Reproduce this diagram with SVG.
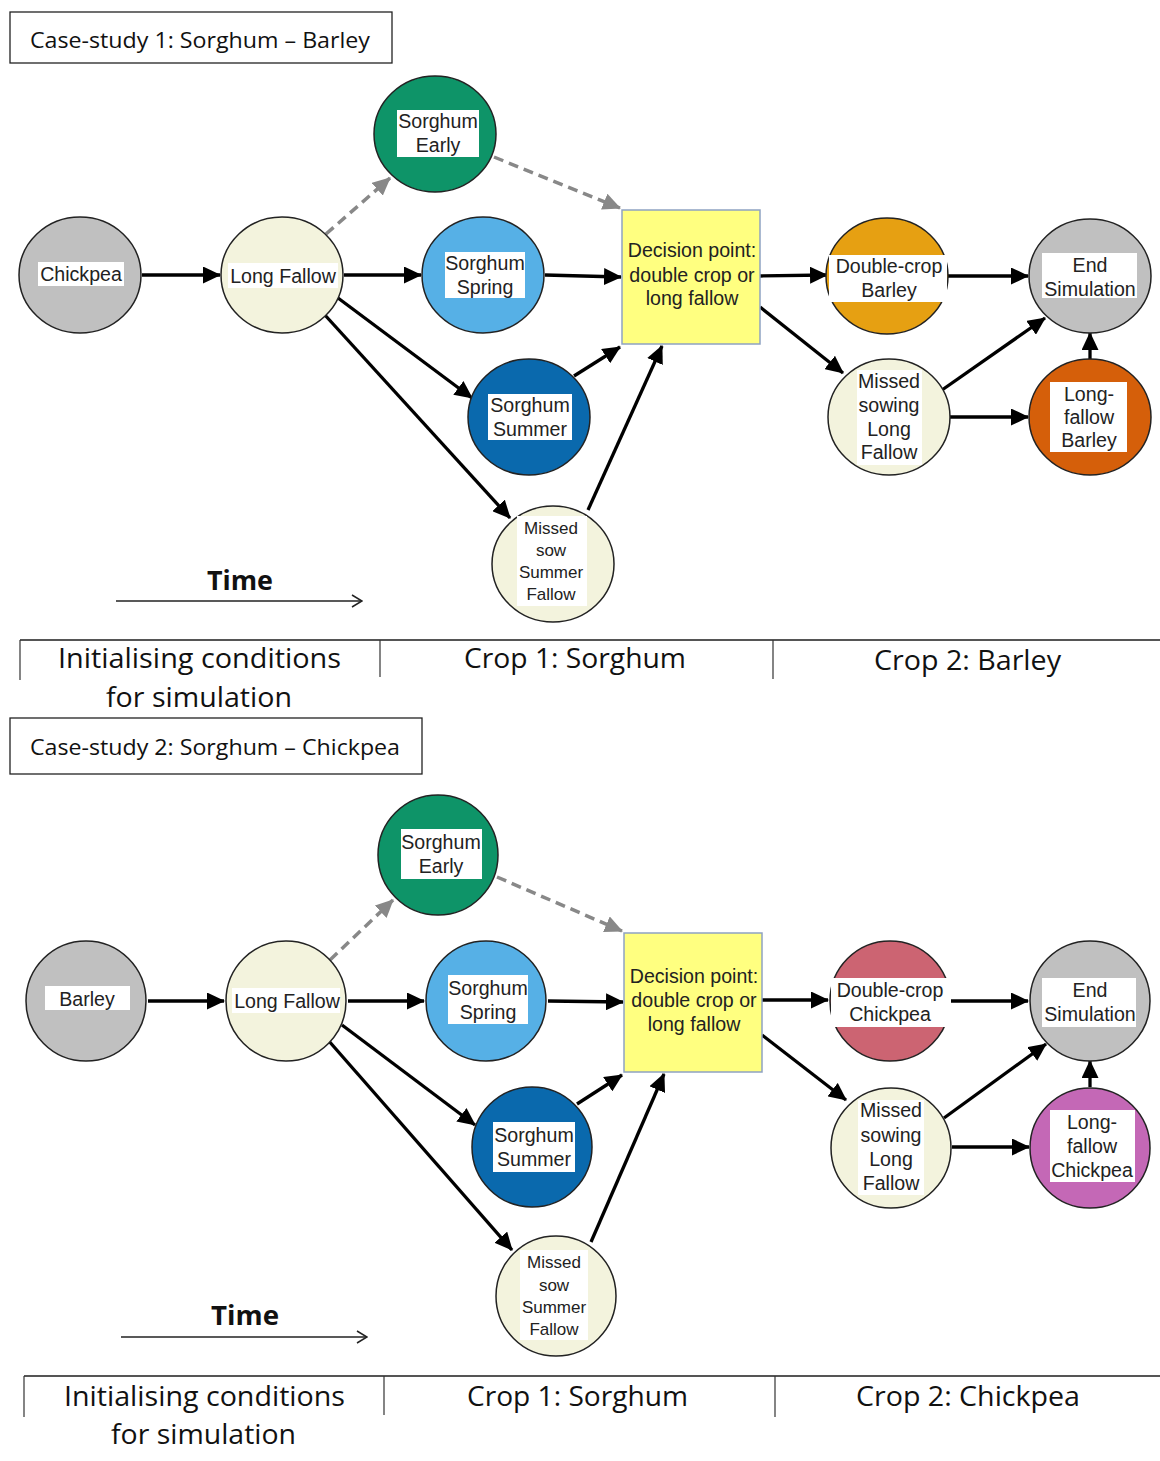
<svg xmlns="http://www.w3.org/2000/svg" width="1160" height="1461" viewBox="0 0 1160 1461">
<style>
.nd{stroke:#222;stroke-width:1.5}
.gray{fill:#c0c0c0}.cream{fill:#f3f3dd}.green{fill:#0e9468}.lblue{fill:#56b0e6}.dblue{fill:#0a69ad}
.orange{fill:#e6a012}.dorange{fill:#d55f0a}.pink{fill:#cc6472}.purple{fill:#c468b6}
.dec{fill:#ffff80;stroke:#8fa2c2;stroke-width:1.5}
.bg{fill:#fff}
.lb{font-family:"Liberation Sans",Arial,sans-serif;font-size:19.6px;fill:#222;text-anchor:middle}
.sm{font-size:17px}
.c{stroke:#000;stroke-width:3.3;fill:none;marker-end:url(#ah)}
.d{stroke:#888;stroke-width:3.5;fill:none;stroke-dasharray:10 6;marker-end:url(#ahg)}
.tb{fill:none;stroke:#222;stroke-width:1.3}
.tt{font-family:"Open Sans","Liberation Sans",sans-serif;font-size:22px;fill:#111}
.ax{stroke:#555;stroke-width:2;fill:none}
.tk{stroke:#333;stroke-width:1.2;fill:none}
.al{font-family:"Open Sans","Liberation Sans",sans-serif;font-size:28px;fill:#111}
.tm{font-family:"Open Sans","Liberation Sans",sans-serif;font-size:26px;font-weight:bold;fill:#111;text-anchor:middle}
.ta{stroke:#222;stroke-width:1.5;fill:none;marker-end:url(#oa)}
</style>
<defs>
<marker id="ah" markerWidth="18" markerHeight="17" refX="17" refY="8.5" orient="auto" markerUnits="userSpaceOnUse"><path d="M0,0 L18,8.5 L0,17 z" fill="#000"/></marker>
<marker id="ahg" markerWidth="18" markerHeight="17" refX="17" refY="8.5" orient="auto" markerUnits="userSpaceOnUse"><path d="M0,0 L18,8.5 L0,17 z" fill="#888"/></marker>
<marker id="oa" markerWidth="12" markerHeight="14" refX="11" refY="7" orient="auto" markerUnits="userSpaceOnUse"><path d="M1,1 L11,7 L1,13" fill="none" stroke="#222" stroke-width="1.5"/></marker>
</defs>

<!-- ============ Case study 1 ============ -->
<g id="title1"><rect class="tb" x="10" y="12" width="382" height="51"/><text class="tt" x="30" y="48" textLength="340" lengthAdjust="spacingAndGlyphs">Case-study 1: Sorghum – Barley</text></g>

<g id="connectors1">
<line class="c" x1="142" y1="275" x2="220" y2="275"/>
<line class="c" x1="344" y1="275" x2="421" y2="275"/>
<line class="d" x1="326" y1="234" x2="390" y2="178"/>
<line class="d" x1="494" y1="157" x2="620" y2="208"/>
<line class="c" x1="545" y1="275" x2="621" y2="277"/>
<line class="c" x1="338" y1="298" x2="472" y2="398"/>
<line class="c" x1="324" y1="314" x2="510" y2="518"/>
<line class="c" x1="574" y1="376" x2="620" y2="347"/>
<line class="c" x1="588" y1="510" x2="662" y2="346"/>
<line class="c" x1="760" y1="276" x2="827" y2="275"/>
<line class="c" x1="760" y1="307" x2="843" y2="373"/>
<line class="c" x1="948" y1="276" x2="1028" y2="276"/>
<line class="c" x1="942" y1="390" x2="1045" y2="318"/>
<line class="c" x1="950" y1="417" x2="1028" y2="417"/>
<line class="c" x1="1090" y1="359" x2="1090" y2="333"/>
</g>

<g id="n1-chickpea"><ellipse class="nd gray" cx="80" cy="275" rx="61" ry="58"/><rect class="bg" x="38" y="262" width="86" height="24"/><text class="lb" x="81" y="281">Chickpea</text></g>
<g id="n1-longfallow"><ellipse class="nd cream" cx="282" cy="275" rx="61" ry="58"/><rect class="bg" x="228" y="263" width="110" height="25"/><text class="lb" x="283" y="283">Long Fallow</text></g>
<g id="n1-early"><ellipse class="nd green" cx="435" cy="134" rx="61" ry="58"/><rect class="bg" x="397" y="110" width="82" height="47"/><text class="lb" x="438" y="128">Sorghum</text><text class="lb" x="438" y="152">Early</text></g>
<g id="n1-spring"><ellipse class="nd lblue" cx="483" cy="275" rx="61" ry="58"/><rect class="bg" x="445" y="252" width="80" height="46"/><text class="lb" x="485" y="270">Sorghum</text><text class="lb" x="485" y="294">Spring</text></g>
<g id="n1-decision"><rect class="dec" x="622" y="210" width="138" height="134"/><text class="lb" x="692" y="257">Decision point:</text><text class="lb" x="692" y="282">double crop or</text><text class="lb" x="692" y="305">long fallow</text></g>
<g id="n1-summer"><ellipse class="nd dblue" cx="529" cy="417" rx="61" ry="58"/><rect class="bg" x="488" y="394" width="84" height="46"/><text class="lb" x="530" y="412">Sorghum</text><text class="lb" x="530" y="436">Summer</text></g>
<g id="n1-missedsow"><ellipse class="nd cream" cx="553" cy="564" rx="61" ry="58"/><rect class="bg" x="517" y="516" width="70" height="90"/><text class="lb sm" x="551" y="534">Missed</text><text class="lb sm" x="551" y="556">sow</text><text class="lb sm" x="551" y="578">Summer</text><text class="lb sm" x="551" y="600">Fallow</text></g>
<g id="n1-dcbarley"><ellipse class="nd orange" cx="887" cy="276" rx="61" ry="58"/><rect class="bg" x="829" y="255" width="118" height="47"/><text class="lb" x="889" y="273">Double-crop</text><text class="lb" x="889" y="297">Barley</text></g>
<g id="n1-end"><ellipse class="nd gray" cx="1090" cy="276" rx="61" ry="57"/><rect class="bg" x="1042" y="253" width="95" height="45"/><text class="lb" x="1090" y="272">End</text><text class="lb" x="1090" y="296">Simulation</text></g>
<g id="n1-missedsowing"><ellipse class="nd cream" cx="889" cy="417" rx="61" ry="58"/><rect class="bg" x="857" y="370" width="65" height="95"/><text class="lb" x="889" y="388">Missed</text><text class="lb" x="889" y="412">sowing</text><text class="lb" x="889" y="436">Long</text><text class="lb" x="889" y="459">Fallow</text></g>
<g id="n1-lfbarley"><ellipse class="nd dorange" cx="1090" cy="417" rx="61" ry="58"/><rect class="bg" x="1050" y="382" width="77" height="70"/><text class="lb" x="1089" y="401">Long-</text><text class="lb" x="1089" y="424">fallow</text><text class="lb" x="1089" y="447">Barley</text></g>

<g id="time1"><text class="tm" x="240" y="590" textLength="66" lengthAdjust="spacingAndGlyphs">Time</text><line class="ta" x1="116" y1="601" x2="362" y2="601"/></g>
<g id="axis1">
<line class="ax" x1="20" y1="640" x2="1160" y2="640"/>
<line class="tk" x1="20" y1="640" x2="20" y2="680"/>
<line class="tk" x1="380" y1="640" x2="380" y2="677"/>
<line class="tk" x1="773" y1="640" x2="773" y2="679"/>
<text class="al" x="58" y="668" textLength="283" lengthAdjust="spacingAndGlyphs">Initialising conditions</text>
<text class="al" x="106" y="707" textLength="186" lengthAdjust="spacingAndGlyphs">for simulation</text>
<text class="al" x="464" y="668" textLength="222" lengthAdjust="spacingAndGlyphs">Crop 1: Sorghum</text>
<text class="al" x="874" y="670" textLength="187" lengthAdjust="spacingAndGlyphs">Crop 2: Barley</text>
</g>

<!-- ============ Case study 2 ============ -->
<g id="title2"><rect class="tb" x="10" y="718" width="412" height="56"/><text class="tt" x="30" y="755" textLength="370" lengthAdjust="spacingAndGlyphs">Case-study 2: Sorghum – Chickpea</text></g>

<g id="connectors2">
<line class="c" x1="148" y1="1001" x2="224" y2="1001"/>
<line class="d" x1="330" y1="960" x2="393" y2="900"/>
<line class="d" x1="497" y1="877" x2="622" y2="931"/>
<line class="c" x1="348" y1="1001" x2="424" y2="1001"/>
<line class="c" x1="548" y1="1001" x2="623" y2="1002"/>
<line class="c" x1="342" y1="1025" x2="475" y2="1125"/>
<line class="c" x1="328" y1="1040" x2="512" y2="1250"/>
<line class="c" x1="577" y1="1104" x2="622" y2="1075"/>
<line class="c" x1="591" y1="1242" x2="664" y2="1074"/>
<line class="c" x1="762" y1="1000" x2="828" y2="1000"/>
<line class="c" x1="762" y1="1035" x2="846" y2="1100"/>
<line class="c" x1="951" y1="1001" x2="1028" y2="1001"/>
<line class="c" x1="944" y1="1118" x2="1046" y2="1044"/>
<line class="c" x1="952" y1="1147" x2="1029" y2="1147"/>
<line class="c" x1="1090" y1="1087" x2="1090" y2="1061"/>
</g>

<g id="n2-barley"><circle class="nd gray" cx="86" cy="1001" r="60"/><rect class="bg" x="45" y="986" width="85" height="24"/><text class="lb" x="87" y="1006">Barley</text></g>
<g id="n2-longfallow"><circle class="nd cream" cx="286" cy="1001" r="60"/><rect class="bg" x="232" y="988" width="108" height="25"/><text class="lb" x="287" y="1008">Long Fallow</text></g>
<g id="n2-early"><circle class="nd green" cx="438" cy="855" r="60"/><rect class="bg" x="401" y="829" width="81" height="50"/><text class="lb" x="441" y="849">Sorghum</text><text class="lb" x="441" y="873">Early</text></g>
<g id="n2-spring"><circle class="nd lblue" cx="486" cy="1001" r="60"/><rect class="bg" x="448" y="975" width="80" height="49"/><text class="lb" x="488" y="995">Sorghum</text><text class="lb" x="488" y="1019">Spring</text></g>
<g id="n2-decision"><rect class="dec" x="624" y="933" width="138" height="139"/><text class="lb" x="694" y="983">Decision point:</text><text class="lb" x="694" y="1007">double crop or</text><text class="lb" x="694" y="1031">long fallow</text></g>
<g id="n2-summer"><circle class="nd dblue" cx="532" cy="1147" r="60"/><rect class="bg" x="493" y="1122" width="82" height="50"/><text class="lb" x="534" y="1142">Sorghum</text><text class="lb" x="534" y="1166">Summer</text></g>
<g id="n2-missedsow"><circle class="nd cream" cx="556" cy="1296" r="60"/><rect class="bg" x="520" y="1250" width="68" height="90"/><text class="lb sm" x="554" y="1268">Missed</text><text class="lb sm" x="554" y="1291">sow</text><text class="lb sm" x="554" y="1313">Summer</text><text class="lb sm" x="554" y="1335">Fallow</text></g>
<g id="n2-dcchickpea"><circle class="nd pink" cx="890" cy="1001" r="60"/><rect class="bg" x="831" y="978" width="120" height="49"/><text class="lb" x="890" y="997">Double-crop</text><text class="lb" x="890" y="1021">Chickpea</text></g>
<g id="n2-end"><circle class="nd gray" cx="1090" cy="1001" r="60"/><rect class="bg" x="1042" y="978" width="94" height="49"/><text class="lb" x="1090" y="997">End</text><text class="lb" x="1090" y="1021">Simulation</text></g>
<g id="n2-missedsowing"><circle class="nd cream" cx="891" cy="1148" r="60"/><rect class="bg" x="858" y="1100" width="66" height="95"/><text class="lb" x="891" y="1117">Missed</text><text class="lb" x="891" y="1142">sowing</text><text class="lb" x="891" y="1166">Long</text><text class="lb" x="891" y="1190">Fallow</text></g>
<g id="n2-lfchickpea"><circle class="nd purple" cx="1090" cy="1148" r="60"/><rect class="bg" x="1050" y="1110" width="85" height="72"/><text class="lb" x="1092" y="1129">Long-</text><text class="lb" x="1092" y="1153">fallow</text><text class="lb" x="1092" y="1177">Chickpea</text></g>

<g id="time2"><text class="tm" x="245" y="1325" textLength="68" lengthAdjust="spacingAndGlyphs">Time</text><line class="ta" x1="121" y1="1337" x2="367" y2="1337"/></g>
<g id="axis2">
<line class="ax" x1="24" y1="1376" x2="1160" y2="1376"/>
<line class="tk" x1="24" y1="1376" x2="24" y2="1417"/>
<line class="tk" x1="384" y1="1376" x2="384" y2="1415"/>
<line class="tk" x1="775" y1="1376" x2="775" y2="1417"/>
<text class="al" x="64" y="1406" textLength="281" lengthAdjust="spacingAndGlyphs">Initialising conditions</text>
<text class="al" x="111" y="1444" textLength="185" lengthAdjust="spacingAndGlyphs">for simulation</text>
<text class="al" x="467" y="1406" textLength="221" lengthAdjust="spacingAndGlyphs">Crop 1: Sorghum</text>
<text class="al" x="856" y="1406" textLength="224" lengthAdjust="spacingAndGlyphs">Crop 2: Chickpea</text>
</g>
</svg>
